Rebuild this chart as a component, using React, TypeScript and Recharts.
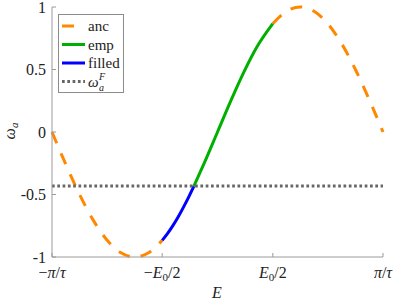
import React from 'react';
import { LineChart, Line, XAxis, YAxis, Legend, Label } from 'recharts';

const ancLeftE = [-3.1416, -2.8798, -2.618, -2.3562, -2.0944, -1.8326, -1.5708, -1.309, -1.05];
const ancLeftW = [0, -0.259, -0.5, -0.707, -0.866, -0.966, -1, -0.966, -0.867];
const filledE = [-1.05, -0.95, -0.85, -0.75, -0.65, -0.55, -0.45];
const filledW = [-0.867, -0.813, -0.751, -0.682, -0.605, -0.523, -0.435];
const empE = [-0.45, -0.25, 0, 0.25, 0.5, 0.75, 1.05];
const empW = [-0.435, -0.247, 0, 0.247, 0.479, 0.682, 0.867];
const ancRightE = [1.05, 1.309, 1.5708, 1.8326, 2.0944, 2.3562, 2.618, 2.8798, 3.1416];
const ancRightW = [0.867, 0.966, 1, 0.966, 0.866, 0.707, 0.5, 0.259, 0];
const fermiE = [-3.1416, 3.1416];
const fermiW = [-0.432, -0.432];

const xTicks = [-3.1416, -1.05, 1.05, 3.1416];
const xTickLabels = ['-pi/tau', '-E0/2', 'E0/2', 'pi/tau'];
const yTicks = [-1, -0.5, 0, 0.5, 1];
const yTickLabels = ['-1', '-0.5', '0', '0.5', '1'];

const toPoints = (xs: number[], ys: number[]) => xs.map((x, i) => ({ x, y: ys[i] }));

const ORANGE = '#ff8800';
const GREEN = '#00b000';
const BLUE = '#0000ff';
const GRAY = '#666666';
const AXIS = '#9a9a9a';
const FONT = "'Liberation Serif', 'Times New Roman', 'DejaVu Serif', serif";
const txt = { fontFamily: FONT };
const DASH = '12 11';
const DOT = '2.7 2.6';

const XTick = ({ x, payload, index }: any) => {
  const lab = xTickLabels[index ?? xTicks.indexOf(payload.value)] || '';
  const neg = lab.startsWith('-');
  const body = neg ? lab.slice(1) : lab;
  let parts: React.ReactNode;
  if (body === 'pi/tau') {
    parts = (
      <>
        <tspan fontStyle="italic">π</tspan>
        <tspan>/</tspan>
        <tspan fontStyle="italic">τ</tspan>
      </>
    );
  } else {
    parts = (
      <>
        <tspan fontStyle="italic">E</tspan>
        <tspan fontSize={11} dy={3}>0</tspan>
        <tspan dy={-3}>/2</tspan>
      </>
    );
  }
  return (
    <g>
      <line x1={x} x2={x} y1={257} y2={253} stroke={AXIS} />
      <text x={x} y={278} textAnchor="middle" style={txt} fontSize={16} fill="#222">
        {neg ? '−' : ''}
        {parts}
      </text>
    </g>
  );
};

const YTick = ({ y, payload, index }: any) => {
  const lab = yTickLabels[index ?? yTicks.indexOf(payload.value)];
  return (
    <g>
      <line x1={52} x2={56} y1={y} y2={y} stroke={AXIS} />
      <text x={46} y={y} dy="0.35em" textAnchor="end" style={txt} fontSize={16} fill="#222">
        {lab}
      </text>
    </g>
  );
};

const legendRows = [
  { name: 'anc', color: ORANGE, dash: DASH },
  { name: 'emp', color: GREEN, dash: undefined },
  { name: 'filled', color: BLUE, dash: undefined },
  { name: 'omegaF', color: GRAY, dash: DOT },
];

const LegendBox = () => (
  <div style={{ width: 64, height: 77, border: '1px solid #8c8c8c', background: '#fff' }}>
    <svg width={64} height={77} style={{ display: 'block' }}>
      {legendRows.map((r, i) => {
        const cy = 11 + i * 18.5;
        return (
          <g key={r.name}>
            <line x1={3} x2={26} y1={cy} y2={cy} stroke={r.color} strokeWidth={3} strokeDasharray={r.dash} />
            {r.name === 'omegaF' ? (
              <text x={29} y={cy} dy="0.35em" style={txt} fontSize={15} fill="#222">
                <tspan fontStyle="italic">ω</tspan>
                <tspan fontStyle="italic" fontSize={10} x={40} dy={4}>a</tspan>
                <tspan fontStyle="italic" fontSize={10} x={40} dy={-11}>F</tspan>
              </text>
            ) : (
              <text x={29} y={cy} dy="0.35em" style={txt} fontSize={15} fill="#222">
                {r.name}
              </text>
            )}
          </g>
        );
      })}
    </svg>
  </div>
);

const YLabel = () => (
  <text transform="translate(15,131) rotate(-90)" textAnchor="middle" style={txt} fontSize={16} fill="#222">
    <tspan fontStyle="italic">ω</tspan>
    <tspan fontStyle="italic" fontSize={11} dy={3}>a</tspan>
  </text>
);

const XLabel = () => (
  <text x={217} y={298} textAnchor="middle" style={txt} fontSize={16} fontStyle="italic" fill="#222">
    E
  </text>
);

export default function App() {
  return (
    <div style={{ position: 'absolute', left: 0, top: 0, width: 399, height: 302, background: '#fff', fontFamily: FONT }}>
      <LineChart width={399} height={302} margin={{ top: 7, right: 16, left: 0, bottom: 0 }}>
        <XAxis
          type="number"
          dataKey="x"
          domain={[-3.1416, 3.1416]}
          ticks={xTicks}
          height={45}
          stroke={AXIS}
          tickLine={false}
          tick={<XTick />}
          interval={0}
        >
          <Label content={<XLabel />} />
        </XAxis>
        <YAxis
          type="number"
          dataKey="y"
          domain={[-1, 1]}
          ticks={yTicks}
          width={52}
          stroke={AXIS}
          tickLine={false}
          tick={<YTick />}
          interval={0}
        >
          <Label content={<YLabel />} />
        </YAxis>
        <Legend
          content={<LegendBox />}
          layout="horizontal"
          verticalAlign="middle"
          align="center"
          wrapperStyle={{ left: 58, top: 14, width: 66 }}
        />
        <Line data={toPoints(ancLeftE, ancLeftW)} dataKey="y" type="monotone" stroke={ORANGE} strokeWidth={3} strokeDasharray={DASH} dot={false} isAnimationActive={false} />
        <Line data={toPoints(ancRightE, ancRightW)} dataKey="y" type="monotone" stroke={ORANGE} strokeWidth={3} strokeDasharray={DASH} dot={false} isAnimationActive={false} />
        <Line data={toPoints(empE, empW)} dataKey="y" type="monotone" stroke={GREEN} strokeWidth={3} dot={false} isAnimationActive={false} />
        <Line data={toPoints(filledE, filledW)} dataKey="y" type="monotone" stroke={BLUE} strokeWidth={3} dot={false} isAnimationActive={false} />
        <Line data={toPoints(fermiE, fermiW)} dataKey="y" type="linear" stroke={GRAY} strokeWidth={3} strokeDasharray={DOT} dot={false} isAnimationActive={false} />
      </LineChart>
    </div>
  );
}
